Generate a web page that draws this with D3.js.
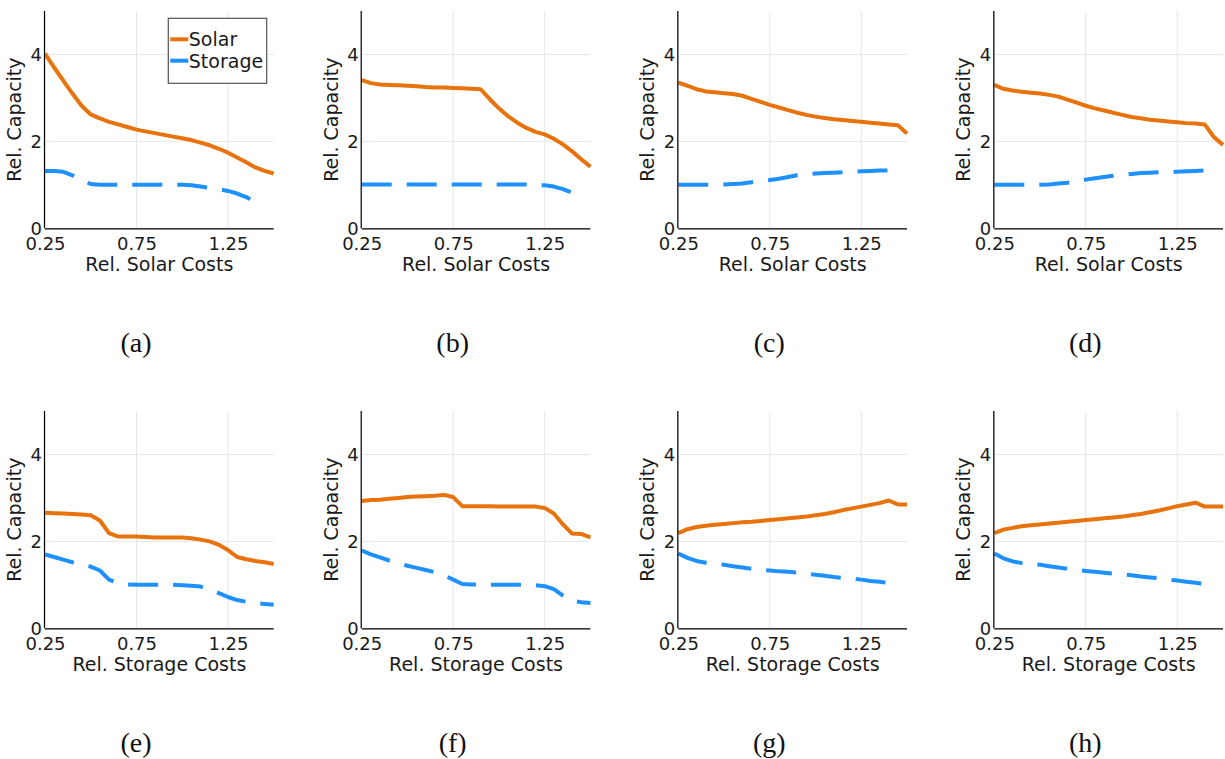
<!DOCTYPE html>
<html>
<head>
<meta charset="utf-8">
<script src="https://cdn.jsdelivr.net/npm/d3@7/dist/d3.min.js"></script>
<style>
  html, body { margin: 0; padding: 0; background: #fff; }
  svg { display: block; }
  .tick-label { font-family: "DejaVu Sans", sans-serif; font-size: 18px; fill: #1a1a1a; }
  .axis-title { font-family: "DejaVu Sans", sans-serif; font-size: 19px; fill: #1a1a1a; }
  .legend-text { font-family: "DejaVu Sans", sans-serif; font-size: 19px; fill: #1a1a1a; }
  .caption { font-family: "Liberation Serif", "Times New Roman", serif; font-size: 28px; fill: #111; }
</style>
</head>
<body>
<svg id="chart" width="1225" height="759"></svg>
<script>
// Relative cost levels sampled along the x axis
const costSteps = [0.25, 0.30, 0.35, 0.40, 0.45, 0.50, 0.55, 0.60, 0.65, 0.70, 0.75, 0.80, 0.85,
                   0.90, 0.95, 1.00, 1.05, 1.10, 1.15, 1.20, 1.25, 1.30, 1.35, 1.40, 1.45, 1.50];

// Panels (a)-(d): varying solar costs
const solarA   = [4.02, 3.70, 3.40, 3.10, 2.82, 2.62, 2.53, 2.45, 2.39, 2.33, 2.27, 2.23, 2.19, 2.15, 2.11, 2.07, 2.03, 1.97, 1.91, 1.83, 1.74, 1.63, 1.52, 1.40, 1.32, 1.26];
const storageA = [1.32, 1.32, 1.30, 1.22, 1.10, 1.02, 1.00, 1.00, 1.00, 1.00, 1.00, 1.00, 1.00, 1.00, 1.00, 1.00, 0.99, 0.96, 0.93, 0.90, 0.86, 0.80, 0.72, 0.60];
const solarB   = [3.41, 3.34, 3.31, 3.30, 3.29, 3.28, 3.27, 3.25, 3.24, 3.24, 3.23, 3.22, 3.21, 3.20, 2.97, 2.76, 2.58, 2.43, 2.31, 2.22, 2.16, 2.06, 1.93, 1.77, 1.59, 1.42];
const storageB = [1.01, 1.01, 1.01, 1.01, 1.01, 1.01, 1.01, 1.01, 1.01, 1.01, 1.01, 1.01, 1.01, 1.01, 1.01, 1.01, 1.01, 1.01, 1.01, 1.00, 0.99, 0.96, 0.90, 0.82, 0.74];
const solarC   = [3.35, 3.28, 3.20, 3.15, 3.13, 3.11, 3.09, 3.05, 2.98, 2.91, 2.84, 2.78, 2.72, 2.66, 2.61, 2.57, 2.54, 2.51, 2.49, 2.47, 2.45, 2.43, 2.41, 2.39, 2.37, 2.18];
const storageC = [1.00, 1.00, 1.00, 1.00, 1.00, 1.01, 1.02, 1.03, 1.06, 1.09, 1.11, 1.14, 1.18, 1.22, 1.24, 1.26, 1.27, 1.28, 1.29, 1.30, 1.31, 1.32, 1.33, 1.33, 1.34];
const solarD   = [3.30, 3.21, 3.17, 3.14, 3.12, 3.10, 3.07, 3.03, 2.96, 2.89, 2.82, 2.76, 2.71, 2.66, 2.61, 2.56, 2.53, 2.50, 2.48, 2.46, 2.44, 2.42, 2.41, 2.39, 2.10, 1.92];
const storageD = [1.00, 1.00, 1.00, 1.00, 1.00, 1.00, 1.01, 1.03, 1.05, 1.08, 1.12, 1.15, 1.18, 1.21, 1.23, 1.25, 1.27, 1.28, 1.29, 1.30, 1.30, 1.31, 1.32, 1.33, 1.15];

// Panels (e)-(h): varying storage costs
const solarE   = [2.66, 2.65, 2.64, 2.63, 2.62, 2.60, 2.48, 2.19, 2.11, 2.11, 2.11, 2.10, 2.09, 2.09, 2.09, 2.09, 2.07, 2.04, 2.00, 1.92, 1.80, 1.64, 1.59, 1.55, 1.52, 1.48];
const storageE = [1.70, 1.64, 1.58, 1.52, 1.47, 1.42, 1.33, 1.12, 1.04, 1.01, 1.00, 1.00, 1.00, 1.00, 1.00, 0.99, 0.98, 0.96, 0.89, 0.81, 0.72, 0.65, 0.61, 0.58, 0.56, 0.54];
const solarF   = [2.93, 2.95, 2.96, 2.98, 3.00, 3.02, 3.03, 3.04, 3.05, 3.07, 3.02, 2.81, 2.81, 2.81, 2.81, 2.80, 2.80, 2.80, 2.80, 2.80, 2.77, 2.64, 2.39, 2.18, 2.17, 2.09];
const storageF = [1.79, 1.70, 1.63, 1.56, 1.50, 1.44, 1.39, 1.34, 1.29, 1.22, 1.12, 1.02, 1.01, 1.01, 1.00, 1.00, 1.00, 1.00, 1.00, 0.99, 0.97, 0.90, 0.75, 0.63, 0.60, 0.58];
const solarG   = [2.19, 2.28, 2.33, 2.36, 2.38, 2.40, 2.42, 2.44, 2.45, 2.47, 2.49, 2.51, 2.53, 2.55, 2.57, 2.60, 2.63, 2.67, 2.72, 2.76, 2.80, 2.84, 2.88, 2.94, 2.85, 2.85];
const storageG = [1.72, 1.62, 1.55, 1.51, 1.48, 1.46, 1.43, 1.40, 1.37, 1.35, 1.33, 1.31, 1.30, 1.28, 1.26, 1.23, 1.21, 1.18, 1.16, 1.14, 1.12, 1.09, 1.07, 1.04, 1.02];
const solarH   = [2.19, 2.27, 2.31, 2.35, 2.37, 2.39, 2.41, 2.43, 2.45, 2.47, 2.49, 2.51, 2.53, 2.55, 2.57, 2.60, 2.63, 2.67, 2.71, 2.76, 2.81, 2.85, 2.89, 2.80, 2.80, 2.80];
const storageH = [1.72, 1.61, 1.54, 1.50, 1.48, 1.46, 1.43, 1.40, 1.37, 1.34, 1.32, 1.30, 1.28, 1.26, 1.24, 1.22, 1.19, 1.17, 1.15, 1.12, 1.10, 1.07, 1.05, 1.01];

// Axis ticks and labels
const xTicks = [0.25, 0.75, 1.25];
const yTicks = [0, 2, 4];
const xTitles = ["Rel. Solar Costs", "Rel. Storage Costs"];
const yTitle = "Rel. Capacity";
const seriesNames = ["Solar", "Storage"];
const captions = ["(a)", "(b)", "(c)", "(d)", "(e)", "(f)", "(g)", "(h)"];

const panelData = [
  [solarA, storageA], [solarB, storageB], [solarC, storageC], [solarD, storageD],
  [solarE, storageE], [solarF, storageF], [solarG, storageG], [solarH, storageH]
];

const colors = { solar: "#e8730c", storage: "#1e90ff" };

// Layout of the 2 x 4 grid of small plots
const colLefts = [45, 361.7, 678.3, 994.3];
const rowTops = [11, 411];
const plotW = 228.7, plotH = 217.3;

const svg = d3.select("#chart");

panelData.forEach(([solar, storage], i) => {
  const row = Math.floor(i / 4), col = i % 4;
  const left = colLefts[col], top = rowTops[row];

  const x = d3.scaleLinear().domain([0.25, 1.5]).range([0, plotW]);
  const y = d3.scaleLinear().domain([0, 5]).range([plotH, 0]);

  const g = svg.append("g").attr("transform", `translate(${left},${top})`);

  // grid
  g.append("g").selectAll("line").data(xTicks).join("line")
    .attr("x1", d => x(d)).attr("x2", d => x(d))
    .attr("y1", 0).attr("y2", plotH)
    .attr("stroke", "#e6e6e6").attr("stroke-width", 1);
  g.append("g").selectAll("line").data(yTicks).join("line")
    .attr("x1", 0).attr("x2", plotW)
    .attr("y1", d => y(d)).attr("y2", d => y(d))
    .attr("stroke", "#e6e6e6").attr("stroke-width", 1);

  // series
  const line = d3.line().x((d, k) => x(costSteps[k])).y(d => y(d));
  g.append("path").datum(storage)
    .attr("d", line).attr("fill", "none")
    .attr("stroke", colors.storage).attr("stroke-width", 4)
    .attr("stroke-dasharray", "30,15").attr("stroke-linejoin", "round");
  g.append("path").datum(solar)
    .attr("d", line).attr("fill", "none")
    .attr("stroke", colors.solar).attr("stroke-width", 4)
    .attr("stroke-linejoin", "round");

  // axes
  const xAxis = d3.axisBottom(x).tickValues(xTicks).tickSize(0).tickFormat(d3.format(".2f"));
  const yAxis = d3.axisLeft(y).tickValues(yTicks).tickSize(0).tickFormat(d3.format("d"));

  const gx = g.append("g").attr("transform", `translate(0,${plotH})`).call(xAxis);
  gx.select(".domain").attr("stroke", "#000").attr("stroke-width", 1.2).attr("d", `M0,0.5H${plotW}`);
  gx.selectAll(".tick text").attr("class", "tick-label").attr("font-size", null).attr("font-family", null)
    .attr("y", 22).attr("dy", null).attr("fill", null);

  const gy = g.append("g").call(yAxis);
  gy.select(".domain").attr("stroke", "#000").attr("stroke-width", 1.2).attr("d", `M-0.5,0V${plotH}`);
  gy.selectAll(".tick text").attr("class", "tick-label").attr("font-size", null).attr("font-family", null)
    .attr("x", -3).attr("dy", "0.35em").attr("fill", null);
  gx.attr("font-size", null).attr("font-family", null);
  gy.attr("font-size", null).attr("font-family", null);

  // axis titles
  g.append("text").attr("class", "axis-title")
    .attr("x", plotW / 2).attr("y", plotH + 43)
    .attr("text-anchor", "middle").text(xTitles[row]);
  g.append("text").attr("class", "axis-title")
    .attr("transform", `translate(-24,${plotH / 2}) rotate(-90)`)
    .attr("text-anchor", "middle").text(yTitle);

  // sub-figure caption
  svg.append("text").attr("class", "caption")
    .attr("x", left + 91).attr("y", top + plotH + 124)
    .attr("text-anchor", "middle").text(captions[i]);

  // legend in the first panel
  if (i === 0) {
    const lg = g.append("g").attr("transform", `translate(${x(0.25) + 123.3},7.3)`);
    lg.append("rect").attr("width", 98.4).attr("height", 65)
      .attr("fill", "#fff").attr("stroke", "#555").attr("stroke-width", 1.2);
    seriesNames.forEach((name, k) => {
      const ly = 21 + k * 21.4;
      lg.append("line").attr("x1", 2).attr("x2", 20).attr("y1", ly).attr("y2", ly)
        .attr("stroke", k === 0 ? colors.solar : colors.storage).attr("stroke-width", 4);
      lg.append("text").attr("class", "legend-text").attr("x", 20.5).attr("y", ly)
        .attr("dy", "0.36em").text(name);
    });
  }
});
</script>
</body>
</html>
